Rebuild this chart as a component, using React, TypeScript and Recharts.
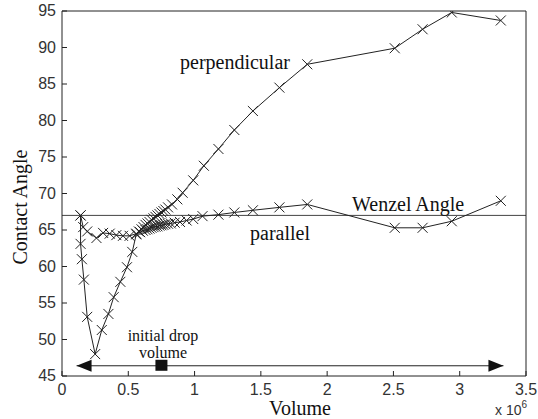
import React from "react";
import {
  ComposedChart,
  Line,
  XAxis,
  YAxis,
  ReferenceLine,
} from "recharts";

const W = 538;
const H = 419;
const PLOT = { left: 62, right: 526, top: 11, bottom: 376 };
const AX = { bottom: 20, top: 5, left: 40, right: 5 };

const xTicks = [0, 0.5, 1, 1.5, 2, 2.5, 3, 3.5];
const yTicks = [45, 50, 55, 60, 65, 70, 75, 80, 85, 90, 95];

// volume (x 10^6)
const perpX = [
  0.14, 0.14, 0.15, 0.165, 0.19, 0.25, 0.3, 0.35, 0.39, 0.44, 0.49, 0.53,
  0.56, 0.58, 0.6, 0.615, 0.63, 0.645, 0.66, 0.675, 0.69, 0.705, 0.72, 0.735,
  0.75, 0.765, 0.78, 0.8, 0.83, 0.87, 0.91, 0.99, 1.07, 1.18, 1.3, 1.44, 1.64,
  1.85, 2.51, 2.72, 2.94, 3.31,
];
const perpY = [
  67.0, 63.1, 61.0, 58.2, 53.1, 48.0, 51.3, 53.5, 55.8, 57.9, 59.9, 62.0,
  64.4, 64.8, 65.1, 65.4, 65.7, 65.9, 66.1, 66.4, 66.6, 66.8, 67.0, 67.2,
  67.4, 67.6, 67.8, 68.1, 68.5, 69.2, 70.1, 71.8, 73.8, 76.1, 78.7, 81.3, 84.5,
  87.7, 89.9, 92.5, 94.8, 93.7,
];

const paraX = [
  0.14, 0.16, 0.19, 0.26, 0.31, 0.36, 0.41, 0.46, 0.51, 0.56, 0.59, 0.61, 0.63,
  0.645, 0.66, 0.675, 0.69, 0.705, 0.72, 0.735, 0.75, 0.765, 0.78, 0.8, 0.82,
  0.85, 0.89, 0.94, 0.99, 1.06, 1.18, 1.3, 1.44, 1.64, 1.85, 2.51, 2.72, 2.94,
  3.31,
];
const paraY = [
  67.0, 65.4, 64.8, 63.9, 64.6, 64.5, 64.3, 64.2, 64.2, 64.5, 64.7, 64.9, 65.0,
  65.1, 65.2, 65.3, 65.4, 65.45, 65.5, 65.6, 65.65, 65.7, 65.8, 65.85, 65.9,
  66.0, 66.1, 66.3, 66.5, 66.9, 67.1, 67.4, 67.7, 68.1, 68.5, 65.3, 65.3, 66.2,
  69.0,
];

const wenzelAngle = 67;
const arrowX = [0.11, 3.33];
const arrowY = 46.4;
const initialDropVolume = 0.75;

const perp = perpX.map((x, i) => ({ x, y: perpY[i] }));
const para = paraX.map((x, i) => ({ x, y: paraY[i] }));
const arrow = arrowX.map((x) => ({ x, y: arrowY }));
const drop = [{ x: initialDropVolume, y: arrowY }];

const INK = "#222";
const SANS = "'Liberation Sans Narrow', 'Liberation Sans', Arial, sans-serif";
const SERIF = "'Liberation Serif', 'Times New Roman', serif";

const Cross = (props: any) => {
  const { cx, cy } = props;
  if (cx == null || cy == null) return null;
  const s = 5;
  return (
    <path
      d={`M${cx - s},${cy - s}L${cx + s},${cy + s}M${cx - s},${cy + s}L${cx + s},${cy - s}`}
      stroke={INK}
      strokeWidth={1}
      fill="none"
    />
  );
};

const ArrowHead = (props: any) => {
  const { cx, cy, index } = props;
  if (cx == null) return null;
  const len = 15;
  const half = 6;
  const d =
    index === 0
      ? `M${cx},${cy}L${cx + len},${cy - half}L${cx + len},${cy + half}Z`
      : `M${cx},${cy}L${cx - len},${cy - half}L${cx - len},${cy + half}Z`;
  return <path d={d} fill="#111" stroke="none" />;
};

const SquareMark = (props: any) => {
  const { cx, cy } = props;
  if (cx == null) return null;
  return <rect x={cx - 6} y={cy - 6} width={12} height={11} fill="#111" />;
};

const BottomTick = (props: any) => {
  const { x, payload } = props;
  return (
    <g>
      <line x1={x} y1={PLOT.bottom} x2={x} y2={PLOT.bottom - 5} stroke={INK} />
      <text x={x} y={PLOT.bottom + 19} textAnchor="middle" fontSize={16} fontFamily={SANS} fill="#333">
        {payload.value}
      </text>
    </g>
  );
};

const TopTick = (props: any) => {
  const { x } = props;
  return <line x1={x} y1={PLOT.top} x2={x} y2={PLOT.top + 5} stroke={INK} />;
};

const LeftTick = (props: any) => {
  const { y, payload } = props;
  return (
    <g>
      <line x1={PLOT.left} y1={y} x2={PLOT.left + 5} y2={y} stroke={INK} />
      <text x={PLOT.left - 6} y={y + 5} textAnchor="end" fontSize={16} fontFamily={SANS} fill="#333">
        {payload.value}
      </text>
    </g>
  );
};

const RightTick = (props: any) => {
  const { y } = props;
  return <line x1={PLOT.right} y1={y} x2={PLOT.right - 5} y2={y} stroke={INK} />;
};

export default function App() {
  return (
    <div style={{ position: "absolute", left: 0, top: 0, width: W, height: H, background: "#fff" }}>
      <ComposedChart
        width={W}
        height={H}
        margin={{
          top: PLOT.top - AX.top,
          left: PLOT.left - AX.left,
          right: W - PLOT.right - AX.right,
          bottom: H - PLOT.bottom - AX.bottom,
        }}
      >
        <XAxis
          xAxisId="b"
          type="number"
          dataKey="x"
          domain={[0, 3.5]}
          ticks={xTicks}
          height={AX.bottom}
          tickLine={false}
          tick={<BottomTick />}
          axisLine={{ stroke: INK }}
          allowDataOverflow
        />
        <XAxis
          xAxisId="t"
          orientation="top"
          type="number"
          dataKey="x"
          domain={[0, 3.5]}
          ticks={xTicks}
          height={AX.top}
          tickLine={false}
          tick={<TopTick />}
          axisLine={{ stroke: INK }}
        />
        <YAxis
          yAxisId="l"
          type="number"
          dataKey="y"
          domain={[45, 95]}
          ticks={yTicks}
          width={AX.left}
          tickLine={false}
          tick={<LeftTick />}
          axisLine={{ stroke: INK }}
          allowDataOverflow
        />
        <YAxis
          yAxisId="r"
          orientation="right"
          type="number"
          dataKey="y"
          domain={[45, 95]}
          ticks={yTicks}
          width={AX.right}
          tickLine={false}
          tick={<RightTick />}
          axisLine={{ stroke: INK }}
        />
        <ReferenceLine xAxisId="b" yAxisId="l" y={wenzelAngle} stroke="#444" strokeWidth={1} />
        <Line
          xAxisId="b"
          yAxisId="l"
          data={arrow}
          dataKey="y"
          type="linear"
          stroke={INK}
          strokeWidth={1}
          dot={<ArrowHead />}
          activeDot={false}
          isAnimationActive={false}
        />
        <Line
          xAxisId="b"
          yAxisId="l"
          data={drop}
          dataKey="y"
          type="linear"
          stroke="none"
          dot={<SquareMark />}
          activeDot={false}
          isAnimationActive={false}
        />
        <Line
          xAxisId="b"
          yAxisId="l"
          data={perp}
          dataKey="y"
          type="linear"
          stroke={INK}
          strokeWidth={1}
          dot={<Cross />}
          activeDot={false}
          isAnimationActive={false}
        />
        <Line
          xAxisId="b"
          yAxisId="l"
          data={para}
          dataKey="y"
          type="linear"
          stroke={INK}
          strokeWidth={1}
          dot={<Cross />}
          activeDot={false}
          isAnimationActive={false}
        />
      </ComposedChart>
      <svg
        width={W}
        height={H}
        style={{ position: "absolute", left: 0, top: 0, pointerEvents: "none" }}
      >
        <g fontFamily={SERIF} fill="#111">
          <text x={180} y={69} fontSize={20}>perpendicular</text>
          <text x={352} y={211} fontSize={20}>Wenzel Angle</text>
          <text x={250} y={240} fontSize={20}>parallel</text>
          <text x={163} y={341} fontSize={16} textAnchor="middle">initial drop</text>
          <text x={163} y={358} fontSize={16} textAnchor="middle">volume</text>
          <text x={300} y={415} fontSize={20} textAnchor="middle">Volume</text>
          <text
            x={0}
            y={0}
            fontSize={20}
            textAnchor="middle"
            transform="translate(27,207) rotate(-90)"
          >
            Contact Angle
          </text>
        </g>
        <text x={495} y={415} fontSize={14} fontFamily={SANS} fill="#333">
          x 10
          <tspan dy={-7} fontSize={10}>6</tspan>
        </text>
      </svg>
    </div>
  );
}
